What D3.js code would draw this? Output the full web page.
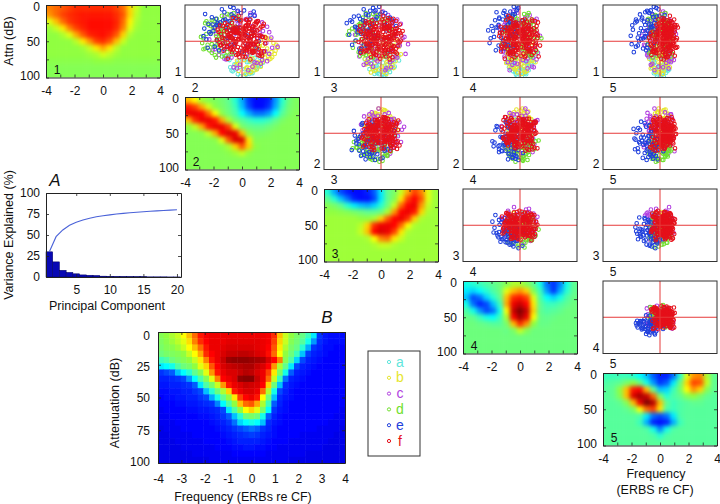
<!DOCTYPE html>
<html><head><meta charset="utf-8">
<script src="https://cdn.jsdelivr.net/npm/d3@7/dist/d3.min.js"></script>
<style>
html,body{margin:0;padding:0;background:#fff}
svg{display:block}
text{font-family:"Liberation Sans",Arial,sans-serif;fill:#111}
</style></head><body>
<svg id="c" width="720" height="504"></svg>
<script>
// ---- PCA variance
const components = d3.range(1, 21);
const varianceEach = [30,18,8,5.5,3.8,2.5,2.1,1.8,1,.8,.6,.5,.4,.3,.3,.2,.2,.2,.1,.1];
const varianceCum = [30,48,56,61.5,65.3,67.8,69.9,71.7,72.9,74,75,75.8,76.5,77.1,77.7,78.2,78.7,79.2,79.6,80];
// ---- tick labels
const freqTicks = [-4,-3,-2,-1,0,1,2,3,4];
const attnTicks = [0,25,50,75,100];
const varTicks = [0,25,50,75,100];
const compTicks = [5,10,15,20];
const groupNames = ['a','b','c','d','e','f'];
// ---- Component heat maps: jet level (%), rows = attenuation 0..100, cols = frequency -4..4
const comp1 = [
[74,76,78,80,82,82,82,82,82,82,80,76,66,58,54,54,54],
[72,76,80,82,83,84,84,84,84,84,82,78,66,57,54,54,54],
[60,68,76,81,83,84,85,85,85,85,83,76,63,56,54,54,54],
[55,58,64,74,80,83,85,85,85,85,82,74,60,55,54,54,54],
[54,54,56,60,70,78,83,84,85,83,78,66,56,54,54,54,54],
[54,54,54,54,57,64,72,80,82,78,68,58,54,54,54,54,54],
[54,54,54,54,54,55,58,64,70,64,57,54,54,54,54,54,54],
[54,54,54,54,54,54,55,56,59,57,55,54,54,54,54,54,54],
[53,53,53,53,53,53,53,54,54,54,53,53,53,53,53,53,53],
[52,52,52,52,52,52,52,52,52,52,52,52,52,52,52,52,52],
[52,52,52,52,52,52,52,52,52,52,52,52,52,52,52,52,52]];
const comp2 = [
[68,62,55,52,51,49,46,40,28,16,12,12,14,26,40,48,51],
[84,80,70,59,53,50,47,42,30,18,12,12,16,28,42,49,51],
[88,88,86,76,62,53,48,44,36,28,22,22,26,36,45,50,52],
[68,82,88,88,84,70,56,49,45,42,40,40,42,46,50,52,52],
[54,58,70,84,88,88,80,60,50,47,46,46,48,50,52,52,52],
[52,52,53,58,70,86,90,88,68,53,50,50,51,52,52,52,52],
[52,52,52,52,53,60,78,90,90,64,52,52,52,52,52,52,52],
[52,52,52,52,52,53,56,66,78,66,54,52,52,52,52,52,52],
[52,52,52,52,52,52,53,55,58,54,52,52,52,52,52,52,52],
[52,52,52,52,52,52,52,52,52,52,52,52,52,52,52,52,52],
[52,52,52,52,52,52,52,52,52,52,52,52,52,52,52,52,52]];
const comp3 = [
[40,28,18,14,12,12,14,20,34,46,50,58,70,80,74,60,55],
[46,40,30,22,14,12,12,18,34,46,52,64,80,86,78,60,55],
[52,50,46,40,34,30,28,32,40,48,58,76,86,88,72,58,55],
[54,54,53,52,50,48,46,46,48,56,72,86,88,84,66,56,55],
[55,55,55,55,55,54,54,56,66,78,86,88,82,66,56,55,55],
[55,55,55,55,55,57,66,82,88,88,86,76,62,56,55,55,55],
[55,55,55,55,55,58,68,86,90,88,80,64,56,55,55,55,55],
[55,55,55,55,55,55,56,62,74,76,64,58,55,55,55,55,55],
[55,55,55,55,55,55,55,56,58,58,56,55,55,55,55,55,55],
[55,55,55,55,55,55,55,55,55,55,55,55,55,55,55,55,55],
[55,55,55,55,55,55,55,55,55,55,55,55,55,55,55,55,55]];
const comp4 = [
[38,40,42,44,46,48,52,56,56,52,46,38,22,16,24,38,46],
[34,32,36,40,44,48,60,68,72,66,52,42,26,16,28,40,46],
[30,18,22,32,40,46,68,82,84,80,60,44,36,32,38,44,47],
[38,22,14,18,30,42,70,88,92,86,64,46,42,42,44,46,48],
[44,38,26,18,22,38,62,92,100,92,66,46,44,45,46,48,48],
[47,46,42,38,36,42,56,86,96,88,62,47,46,47,48,48,48],
[48,48,47,46,45,45,50,68,82,72,54,47,47,48,48,48,48],
[48,48,48,48,48,48,47,50,58,52,48,48,48,48,48,48,48],
[48,48,48,48,48,48,48,48,48,48,48,48,48,48,48,48,48],
[48,48,48,48,48,48,48,48,48,48,48,48,48,48,48,48,48],
[48,48,48,48,48,48,48,48,48,48,48,48,48,48,48,48,48]];
const comp5 = [
[42,42,42,42,40,36,30,20,14,14,22,40,60,72,74,56,46],
[44,45,46,50,54,48,38,26,16,20,34,48,66,80,78,58,46],
[45,46,54,68,84,86,68,46,30,32,42,50,62,72,66,52,46],
[45,46,52,68,90,96,92,76,50,40,44,46,52,54,50,46,45],
[45,45,46,52,68,88,100,94,68,46,42,44,45,46,46,45,45],
[45,45,45,46,50,62,76,80,64,44,42,44,45,45,45,45,45],
[45,45,45,45,45,44,34,22,18,22,34,44,45,45,45,45,45],
[45,45,45,45,45,42,28,14,12,14,28,42,45,45,45,45,45],
[45,45,45,45,45,45,44,38,24,38,44,45,45,45,45,45,45],
[45,45,45,45,45,45,45,44,40,44,45,45,45,45,45,45,45],
[45,45,45,45,45,45,45,45,45,45,45,45,45,45,45,45,45]];
// ---- Panel B mean map: rows = 0,5..100 dB, cols = -4,-3.75..4
const meanMap = [
[52,54,56,58,62,68,76,84,87,88,88,88,88,88,88,88,88,88,88,87,82,68,58,54,50,47,42,34,16,13,12,12,12],
[51,53,55,57,60,65,74,82,86,88,88,88,89,89,89,89,89,89,88,87,80,66,58,52,49,45,38,26,15,13,12,12,12],
[50,52,53,55,58,62,68,76,84,88,88,89,90,90,90,90,90,89,88,86,78,64,56,50,47,40,28,16,14,12,12,11,11],
[48,50,51,52,54,58,62,70,82,86,88,90,92,92,93,93,92,90,89,85,76,62,54,48,42,30,17,14,13,12,11,11,11],
[42,44,48,50,52,54,58,64,74,84,88,92,97,98,98,98,97,96,95,90,86,74,52,44,32,18,14,13,12,11,11,11,11],
[34,36,38,44,48,50,54,60,66,78,86,90,92,93,94,95,95,92,90,86,72,56,46,34,18,14,13,12,11,11,11,11,11],
[16,18,20,30,36,40,46,52,60,72,84,88,90,90,92,94,93,90,88,80,64,50,38,20,14,13,12,11,11,11,11,11,11],
[14,14,15,16,18,26,36,44,52,60,74,86,88,90,98,99,99,92,88,76,58,42,22,14,13,12,11,11,11,11,11,11,11],
[13,13,14,14,15,16,20,34,44,50,58,72,84,88,90,92,91,90,86,66,48,30,15,13,12,11,11,11,11,11,11,11,11],
[12,12,13,13,14,14,16,18,30,40,48,56,66,84,88,90,90,88,76,56,38,18,14,12,11,11,11,11,11,11,11,11,11],
[11,12,12,13,13,14,14,16,18,28,38,46,54,64,80,86,88,84,62,48,30,15,13,12,11,11,11,11,11,11,11,11,11],
[11,11,11,12,12,13,13,14,15,16,24,36,44,54,68,76,78,70,56,42,20,14,12,11,11,11,11,11,11,11,11,11,11],
[10,11,11,11,11,12,12,13,13,14,15,18,34,44,54,62,66,60,50,36,16,13,12,11,11,11,11,11,11,11,11,11,10],
[10,10,11,11,11,11,11,12,12,13,14,16,20,30,40,48,50,48,38,20,14,12,11,11,11,11,11,11,11,11,11,10,10],
[10,10,10,11,11,11,11,11,11,12,13,14,16,22,32,36,38,36,30,15,13,12,11,11,11,11,11,11,11,11,10,10,10],
[ 9,10,10,10,11,11,11,11,11,11,12,13,14,16,18,20,22,20,16,14,12,11,11,11,11,11,11,11,10,10,10,10, 9],
[ 9, 9,10,10,10,10,11,11,11,11,11,12,13,14,15,16,17,16,14,13,12,11,11,11,11,10,10,10,10,10,10, 9, 9],
[ 9, 9, 9,10,10,10,10,10,11,11,11,11,12,13,14,14,14,14,13,12,11,11,11,10,10,10,10,10,10,10, 9, 9, 9],
[ 9, 9, 9, 9,10,10,10,10,10,10,11,11,11,12,12,13,13,12,12,11,11,10,10,10,10,10,10,10,10, 9, 9, 9, 9],
[ 9, 9, 9, 9, 9, 9,10,10,10,10,10,10,10,11,11,11,11,11,11,10,10,10,10,10,10,10, 9, 9, 9, 9, 9, 9, 9],
[ 9, 9, 9, 9, 9, 9, 9, 9, 9,10,10,10,10,10,10,10,10,10,10,10,10,10,10, 9, 9, 9, 9, 9, 9, 9, 9, 9, 9]];
// ---- Scores on PC1..PC5 for each recording, estimated per group
const aScores=[[-92,10,5,-12,8],[-60,30,-25,20,-18],[-78,-15,22,8,30],[-45,42,15,-35,10],[-88,25,-10,15,-20],[-70,-5,38,-18,12],[-52,-30,-28,30,22],[-95,5,12,6,-10],[-66,38,-6,-25,-28],[-38,18,48,28,-20],[-83,-22,-14,-20,15],[-58,12,30,40,6],[-74,32,20,-8,-25],[-48,-38,-20,-30,30],[-90,18,-18,10,5],[-62,-12,-40,22,25],[-80,28,8,25,-12],[-42,48,-30,5,18],[-72,-28,14,-32,-8],[-55,22,36,-15,35],[-97,-4,8,-8,12],[-68,44,-12,12,2],[-50,8,-45,-22,-30],[-85,14,25,-14,-16],[-35,-20,32,45,20],[-76,36,-22,6,10],[-64,-18,18,34,-22],[-46,30,42,-28,-12],[-91,-10,-5,18,-8],[-59,50,5,-20,15],[-77,6,-32,-26,24],[-40,-42,10,25,-35],[-87,22,15,-5,20],[-53,-8,50,10,-28],[-69,40,-18,28,-4],[-30,26,-38,-40,32],[-81,-25,-8,12,26],[-57,16,26,-38,-18],[-73,34,34,2,14],[-44,-34,-22,38,8]];
const bScores=[[-70,45,10,-8,15],[-30,70,-20,15,-10],[-55,20,40,30,-25],[-10,82,5,-12,20],[-80,30,-15,12,8],[-45,55,25,-28,-12],[-20,60,-40,10,30],[-62,-5,-35,-30,22],[-5,75,18,28,-8],[-75,10,22,-18,-30],[-38,48,-30,38,5],[-15,40,50,-22,14],[-85,22,8,15,-15],[-50,65,-8,-10,28],[5,68,-25,-30,-18],[-66,-15,32,22,18],[-25,35,-52,-15,-28],[-58,38,15,45,-5],[-35,78,10,2,12],[-72,12,-25,-25,32],[-12,50,38,35,8],[-48,25,-45,8,-35],[-90,8,15,5,10],[-28,58,30,-35,-20],[8,60,-12,22,35],[-60,42,-18,-40,2],[-42,15,48,18,-22],[-78,35,-5,-15,-12],[-18,85,-8,8,-5],[-52,5,28,-28,38],[-32,52,-35,30,18],[-68,28,25,10,-28],[2,45,42,-18,25],[-44,72,5,-20,-8],[-22,28,-58,25,-15],[-82,-8,-18,20,12],[-56,50,18,-5,22],[-8,38,-30,42,-32],[-40,62,-22,-32,10],[-74,18,35,-12,-18],[-26,80,12,15,15],[-64,32,-42,5,-25],[-36,10,55,-38,6],[12,55,8,30,-12],[-48,68,-15,12,28],[-86,20,-28,-8,-2],[-14,42,25,-42,30],[-54,-12,-38,35,14],[-30,48,40,22,-32],[-70,25,2,-30,25]];
const cScores=[[40,-50,15,25,-30],[-60,35,-40,-15,20],[10,70,25,-35,-45],[65,-25,-42,15,8],[-35,12,68,30,-15],[52,48,10,-42,30],[-72,-20,28,40,10],[20,-62,-30,-25,52],[-15,85,-8,18,-20],[60,8,45,-12,-40],[-48,-42,-35,22,38],[30,30,-65,35,5],[-80,15,12,-30,-18],[5,-78,22,10,-28],[48,-10,55,30,28],[-28,55,-22,-48,-35],[78,20,-15,-8,15],[-42,-32,40,-45,25],[15,45,35,58,-12],[-55,60,-10,18,30],[35,-40,-52,-30,-22],[-8,22,75,-20,35],[68,-42,8,20,-15],[-22,-65,-18,42,15],[25,65,-38,-10,40],[-65,-5,-48,-22,-30],[42,25,30,-62,-8],[-32,40,18,52,-40],[58,-18,-28,42,32],[-12,-35,52,-38,-48],[18,-20,-72,12,-10],[-52,48,32,8,45],[72,30,20,28,-25],[-38,-55,-12,-28,-42],[8,38,60,-40,22],[-70,25,-22,35,-5],[38,-68,18,-15,-32],[-18,72,-30,25,18],[50,-5,-48,-38,40],[-45,-25,45,38,-22],[28,50,42,15,-48],[-28,-48,-40,-50,20],[62,12,-20,48,-18],[-58,30,25,-35,35],[12,-30,65,20,-35],[-5,58,-55,-28,-15],[45,-55,-5,-45,25],[-75,-12,15,22,28],[22,42,-45,50,12],[-42,10,-60,-12,-38],[55,38,35,-18,-30],[-25,-70,30,5,30],[32,-15,22,-58,48],[-62,45,-28,-8,-25],[82,-12,5,-20,10],[-10,28,48,45,-52],[40,60,-25,5,-35],[-50,-38,-15,48,22],[15,-48,40,-32,-58],[-35,65,12,-22,38]];
const dScores=[[30,-70,-30,15,10],[-20,-88,-10,-25,-30],[52,-25,-55,30,22],[5,-55,15,-42,42],[68,-12,-35,-15,-25],[-38,-65,-42,28,5],[18,-42,-68,-22,-12],[45,-80,8,12,28],[-8,-72,-48,-8,-40],[60,-5,22,35,-32],[25,-52,-25,-48,18],[-30,-35,-62,20,-18],[48,-60,-12,-30,30],[-5,-95,5,10,-8],[35,-48,-80,-5,8],[72,-30,-8,22,-15],[-25,-78,20,-35,20],[10,-28,-42,52,-38],[55,-68,-25,-12,15],[-42,-48,10,32,35],[20,-85,-38,-2,-22],[65,-22,-50,-28,12],[0,-58,-72,18,28],[32,-38,28,42,-28],[-15,-68,-30,-40,-12],[48,-50,-58,8,-35],[8,-92,-18,25,12],[-35,-25,-48,-18,40],[62,-42,12,-38,-8],[22,-75,-62,30,-20],[-28,-55,-5,48,-30],[40,-15,-72,-30,25],[15,-62,32,-20,38],[75,-35,-22,12,5],[-10,-82,-40,-30,18],[50,-58,-45,28,-18],[28,-30,-88,-8,-5],[-45,-62,-22,-12,-25],[58,-72,5,18,20],[5,-45,-55,38,30],[38,-20,-30,-45,-32],[-18,-50,-78,5,15],[70,-48,-15,-22,-12],[12,-98,-5,-15,-15],[45,-32,-62,40,10],[-32,-72,15,20,-35],[25,-8,-50,-35,35],[55,-85,-28,5,-8],[-5,-40,-35,-52,22],[35,-65,-48,-18,-28],[78,-20,-42,25,18],[-22,-92,-28,8,8],[18,-52,-92,15,-22],[42,-75,20,-28,25],[-40,-38,-58,35,-10],[62,-60,-8,-8,-38],[8,-25,-18,62,12],[30,-45,-70,-40,-15],[-12,-62,30,-25,32],[50,-88,-35,12,-2]];
const eScores=[[60,-40,30,-50,-60],[20,-75,-55,-20,-35],[85,5,-15,-10,-30],[-10,-25,-80,-35,-40],[45,-60,12,-62,-48],[72,20,-35,-40,15],[5,-85,5,-25,-62],[38,-12,-68,-65,-25],[92,-20,-22,-5,-12],[-20,35,-60,-45,-55],[55,-30,-45,-25,-75],[28,-68,-30,10,-55],[78,-2,12,-48,-35],[-5,-45,-30,-88,-20],[48,-80,-25,-12,-30],[15,15,-8,-30,-95],[68,-20,-75,-22,-10],[-25,-55,22,-70,-45],[35,-90,-50,-40,-8],[82,28,-18,-28,-38],[10,-35,-18,-55,-72],[58,-8,-85,8,-40],[-15,-65,-38,-20,-78],[42,10,42,-82,-22],[95,-28,-5,-18,-20],[25,-78,-65,-15,-15],[65,-15,25,-60,-58],[0,40,-28,-48,-68],[50,-58,-95,-5,-18],[30,-28,15,-92,-42],[88,-48,-48,-8,-5],[-30,0,-58,-30,-85],[40,-38,-72,-42,-28],[75,-88,-2,-15,-25],[12,22,-42,-75,-50],[52,-52,32,-30,-80],[-8,-18,-25,-42,-92],[62,-62,-58,-60,12],[18,8,-88,-22,-32],[80,-42,2,-68,-48],[-18,-82,-35,-25,-42],[32,-22,-35,-52,-88],[70,30,-62,-30,-2],[8,-32,-10,-85,-55],[46,-70,-45,-35,-35],[22,-15,-22,-58,-68],[58,-45,-50,-72,-15],[36,-5,-65,-10,-62],[66,-72,-12,-38,-22],[-12,12,-48,-62,-72],[44,-55,8,-18,-90],[84,-10,-30,-45,-42],[2,-60,-70,-48,-12],[28,25,-32,-78,-38],[54,-35,-80,-28,-52],[14,-92,-20,-5,-48],[74,-25,-42,-20,-65],[-22,-42,-55,-55,-28],[38,-65,-28,-70,-30],[60,18,-15,-35,-78]];
const fScores=[[12,-30,21,-15,30],[-25,18,-40,28,-8],[35,42,9,-35,15],[5,-8,45,8,42],[-32,25,-22,40,-12],[50,-40,30,-20,5],[20,3,-50,17,38],[-9,38,14,45,-20],[28,-18,38,-36,22],[-40,48,-5,2,-2],[45,-35,-30,26,48],[2,12,55,-10,-15],[-17,-25,18,-45,26],[24,30,-38,-30,12],[38,-3,25,22,58],[-28,45,-12,-55,-25],[9,-44,34,11,8],[60,20,3,34,-5],[-4,-14,-26,-18,32],[30,36,-48,48,18],[-20,8,42,-6,-18],[15,-32,-6,-38,45],[42,50,22,24,2],[-36,-10,-18,-28,28],[22,26,48,36,-30],[-12,-52,2,58,6],[52,16,-32,-12,40],[7,-22,28,-42,-10],[-26,4,-44,30,35],[36,-38,12,-4,10],[16,40,-15,52,-22],[-44,-6,32,14,20],[26,-20,-55,-25,48],[-6,55,6,-48,0],[58,12,18,6,25],[10,-48,-28,40,-35],[-30,28,40,-20,42],[23,-12,-8,-52,14],[46,33,52,16,-12],[-16,-36,-34,4,30],[3,20,16,-32,52],[32,-58,-22,30,-6],[-38,38,26,-10,16],[55,-4,-42,44,34],[14,22,36,-60,-28],[-22,-28,-12,22,8],[40,46,4,-26,44],[-2,-16,-62,38,-16],[29,6,24,-14,22],[-14,-42,46,-40,36],[48,30,-20,10,-4],[8,-2,-36,50,55],[-28,52,10,-30,-20],[20,-26,38,26,12],[44,14,-46,-8,28],[-48,-34,-2,-44,4],[34,24,30,32,40],[-10,-50,-24,-18,-30],[16,44,56,6,18],[40,-16,-14,-56,50],[-24,10,20,46,-14],[6,-40,-52,-16,24],[54,34,8,20,6],[-34,-8,44,-34,32],[26,-56,-30,42,-24],[-8,26,-10,-2,46],[62,-14,34,-24,14],[12,48,-40,12,-8],[-42,2,14,54,26],[30,-30,50,-46,38],[1,18,-18,28,-32],[42,-46,-58,-6,20],[-18,32,28,18,52],[22,-6,-4,-38,2],[56,38,42,36,30],[-30,-24,-48,-22,-18],[10,56,12,-50,42],[36,-10,-26,8,10],[-14,-36,36,44,-26],[50,16,-12,-16,34],[-3,-54,52,24,16],[24,6,-34,-58,-10],[-40,42,2,16,48],[64,-22,20,-28,8],[16,28,-44,34,24],[-26,-44,32,-12,-22],[42,8,-16,48,36],[-1,34,48,-42,4],[30,-12,-60,2,44],[-50,20,24,-24,12],[18,-34,-8,38,-12],[48,52,16,-4,26],[-12,-20,-30,-54,40],[34,2,40,26,-2],[-34,46,-20,10,18],[70,-8,6,-34,32],[4,-60,30,18,-16],[-18,14,-54,-8,50],[52,36,-2,52,14],[22,-28,54,-20,22],[-38,-14,-14,34,-28],[38,24,18,-44,38],[-7,-46,-38,6,6],[60,10,26,14,46],[-22,40,-6,-36,-6],[36,-20,44,40,28],[0,4,-48,-26,16],[44,-52,10,-14,54],[-28,30,34,22,-20],[58,-2,-24,-40,10],[-4,22,-16,46,42],[28,-42,60,-2,-8],[-44,8,-28,-16,24],[12,50,22,30,34],[50,-24,-40,12,2],[-16,16,8,-52,56],[20,-50,42,48,18],[-32,-4,-56,-30,-14],[8,36,-10,8,30],[35,-18,16,-24,12],[-20,12,-26,-8,20],[14,-6,24,14,26],[-8,28,-14,-20,8],[26,-14,6,-2,36],[4,20,-32,24,18],[-24,-22,12,-12,4],[32,10,-20,-30,24],[18,-32,30,16,-4],[-12,2,-6,34,32],[40,26,14,-16,14],[6,-16,-22,6,44],[-30,18,20,-26,10],[24,-8,32,20,16],[-6,30,-36,-6,28],[30,4,-2,32,6],[10,-26,16,-34,22],[-18,-2,-30,12,38],[46,14,26,-10,18],[2,-20,-12,26,2],[-26,24,4,-22,30],[20,-4,36,4,12],[34,18,-18,18,26],[-10,-30,10,-14,-2],[16,8,-24,-28,34],[-2,34,22,10,14],[28,-12,-40,-4,20],[-22,6,28,30,24],[42,-28,2,-20,6],[8,16,-8,22,40],[-14,-18,34,-30,12],[22,22,-28,2,28],[38,-6,18,-36,-8],[-4,-34,-16,16,36],[12,12,6,-12,18],[-28,26,-34,26,8],[30,-22,24,8,32],[4,2,-20,-24,22],[18,30,12,28,-6],[-16,-10,-4,-18,26],[26,-36,40,-8,16],[-8,14,-42,20,10],[36,6,8,-26,38],[0,-14,26,12,24],[14,24,-10,-2,4],[-20,-26,14,34,30],[44,10,-30,-14,14],[6,-8,2,-32,20],[-12,20,30,18,6],[24,-18,-14,4,34],[-34,4,10,-20,16],[32,32,-6,14,28],[10,-24,-26,-10,12],[-6,8,18,24,42],[20,-2,-36,-28,0],[28,16,22,6,22],[-24,-12,0,-6,18],[2,-28,14,28,10],[16,6,-18,-16,30],[34,-16,4,10,14],[-10,18,-24,-4,26],[8,-4,8,-18,8]];

const scores = {a:aScores,b:bScores,c:cScores,d:dScores,e:eScores,f:fScores};
const groupColor = {a:'#5fe6dc',b:'#e6e62e',c:'#b23fe0',d:'#6fe02e',e:'#1f3fdc',f:'#e5101a'};
const heatmaps = [comp1,comp2,comp3,comp4,comp5];
// axis half-range of each score panel, keyed row+col
const xLim = {12:136,13:158,14:165,15:185,23:185,24:190,25:205,34:190,35:220,45:225};
const yLim = {1:100,2:125,3:150,4:185};

// ---- layout
const colX=[46,185,324,463,603], rowY=[5,97,189,281,373], pw=114, ph=72.5;
const svg=d3.select('#c');
const jet=d3.scaleLinear().domain([0,.11,.36,.46,.54,.62,.86,1]).range(['#00007f','#0000ff','#00ffff','#60ff90','#90ff40','#ffff00','#ff0000','#7f0000']).clamp(true);
const defs=svg.append('defs');
defs.append('filter').attr('id','soft').attr('x','-20%').attr('y','-20%').attr('width','140%').attr('height','140%')
  .attr('color-interpolation-filters','sRGB').append('feGaussianBlur').attr('stdDeviation',2);
const ink='#222';
function style(g){g.selectAll('path.domain').attr('stroke',ink).attr('stroke-width',1);
 g.selectAll('.tick line').attr('stroke',ink).attr('stroke-width',.8);
 g.selectAll('text').attr('fill','#111').style('font-family','"Liberation Sans",Arial,sans-serif').style('font-size','12px');}
function heatAxes(g,x,y,opts){
 const {xt,yt,xf,yf,xp,yp,shift}=opts, [x0,x1]=x.range(), [y0,y1]=[y.range()[1],y.range()[0]];
 g.append('g').attr('transform',`translate(0,${y0})`).call(d3.axisBottom(x).tickValues(xt).tickSize(-3).tickSizeOuter(0).tickPadding(xp).tickFormat(xf)).call(style);
 g.append('g').attr('transform',`translate(0,${y1})`).call(d3.axisTop(x).tickValues(xt).tickSize(-3).tickSizeOuter(0).tickFormat('')).call(style);
 g.append('g').attr('transform',`translate(${x0},0)`).call(d3.axisLeft(y).tickValues(yt).tickSize(-3).tickSizeOuter(0).tickPadding(yp).tickFormat(yf)).call(style)
  .selectAll('.tick text').attr('y',d=>shift(d));
 g.append('g').attr('transform',`translate(${x1},0)`).call(d3.axisRight(y).tickValues(yt).tickSize(-3).tickSizeOuter(0).tickFormat('')).call(style);
}
function drawCells(g,grid,bx,by,pad){
 const nr=grid.length,nc=grid[0].length;
 g.selectAll('g.r').data(grid).join('g').attr('class','r').each(function(row,r){
  d3.select(this).selectAll('rect').data(row).join('rect')
   .attr('x',(d,c)=>bx(c)-(c==0?pad:0)).attr('y',by(r)-(r==0?pad:0))
   .attr('width',(d,c)=>bx.bandwidth()+.5+(c==0||c==nc-1?pad:0))
   .attr('height',by.bandwidth()+.5+(r==0||r==nr-1?pad:0))
   .attr('fill',d=>jet(d/100));
 });
}
function clip(id,x,y,w,h){defs.append('clipPath').attr('id',id).append('rect').attr('x',x).attr('y',y).attr('width',w).attr('height',h);}

// heat maps on the diagonal
heatmaps.forEach((grid,k)=>{
 const l=colX[k],t=rowY[k];
 const x=d3.scaleLinear().domain([-4,4]).range([l,l+pw]);
 const y=d3.scaleLinear().domain([0,100]).range([t,t+ph]);
 const bx=d3.scaleBand().domain(d3.range(grid[0].length)).range([l,l+pw]);
 const by=d3.scaleBand().domain(d3.range(grid.length)).range([t,t+ph]);
 clip('hc'+k,l,t,pw,ph);
 const g=svg.append('g');
 const cg=g.append('g').attr('clip-path',`url(#hc${k})`).append('g').attr('filter','url(#soft)');
 drawCells(cg,grid,bx,by,14);
 heatAxes(g,x,y,{xt:freqTicks,yt:attnTicks,xp:9,yp:6,shift:d=>d==0?2:d==100?-2:0,
   xf:d=>d%2==0?d3.format('d')(d).replace('−','-'):'',yf:d=>d%50==0?d:''});
 g.append('text').attr('x',l+11).attr('y',t+ph-4).attr('text-anchor','middle').style('font-size','12px').attr('fill','#123').text(k+1);
});

// score panels above the diagonal
for(let r=1;r<=4;r++)for(let c=r+1;c<=5;c++){
 const l=colX[c-1],t=rowY[r-1];
 const x=d3.scaleLinear().domain([-xLim[''+r+c],xLim[''+r+c]]).range([l,l+pw]);
 const y=d3.scaleLinear().domain([-yLim[r],yLim[r]]).range([t+ph,t]);
 const id='sc'+r+c; clip(id,l,t,pw,ph);
 const g=svg.append('g');
 const pg=g.append('g').attr('clip-path',`url(#${id})`);
 groupNames.forEach(n=>{
  pg.append('g').selectAll('circle').data(scores[n]).join('circle')
   .attr('cx',p=>x(p[c-1])).attr('cy',p=>y(p[r-1])).attr('r',1.8)
   .attr('fill','none').attr('stroke',groupColor[n]).attr('stroke-width',1.05);
 });
 g.append('line').attr('x1',x(0)).attr('x2',x(0)).attr('y1',t).attr('y2',t+ph).attr('stroke','#e63a3a').attr('stroke-width',1);
 g.append('line').attr('x1',l).attr('x2',l+pw).attr('y1',y(0)).attr('y2',y(0)).attr('stroke','#e63a3a').attr('stroke-width',1);
 g.append('rect').attr('x',l).attr('y',t).attr('width',pw).attr('height',ph).attr('fill','none').attr('stroke','#333').attr('stroke-width',1);
 g.append('text').attr('x',l-7).attr('y',t+ph-2).attr('text-anchor','middle').style('font-size','12px').text(r);
 g.append('text').attr('x',l+10).attr('y',t+ph+14).attr('text-anchor','middle').style('font-size','12px').text(c);
}

// Panel A
{
 const x=d3.scaleLinear().domain([.5,20.6]).range([46,181]);
 const y=d3.scaleLinear().domain([0,100]).range([277,193]);
 const g=svg.append('g');
 g.selectAll('rect').data(components).join('rect')
  .attr('x',d=>x(d-.5)).attr('width',d=>x(d+.5)-x(d-.5)).attr('y',(d,i)=>y(varianceEach[i]))
  .attr('height',(d,i)=>y(0)-y(varianceEach[i])).attr('fill','#0808b4').attr('stroke','#000060').attr('stroke-width',.5);
 g.append('path').attr('d',d3.line().x((d,i)=>x(components[i])).y(d=>y(d))(varianceCum)).attr('fill','none').attr('stroke','#4a62d8').attr('stroke-width',1.1);
 g.append('g').attr('transform','translate(0,277)').call(d3.axisBottom(x).tickValues(compTicks).tickSize(-3).tickSizeOuter(0).tickPadding(8)).call(style);
 g.append('g').attr('transform','translate(0,193)').call(d3.axisTop(x).tickValues(compTicks).tickSize(-3).tickSizeOuter(0).tickFormat('')).call(style);
 g.append('g').attr('transform','translate(46,0)').call(d3.axisLeft(y).tickValues(varTicks).tickSize(-3).tickSizeOuter(0).tickPadding(6)).call(style);
 g.append('g').attr('transform','translate(181,0)').call(d3.axisRight(y).tickValues(varTicks).tickSize(-3).tickSizeOuter(0).tickFormat('')).call(style);
}

// Panel B
{
 const x=d3.scaleLinear().domain([-4,4]).range([158,345]);
 const y=d3.scaleLinear().domain([0,100]).range([332,463]);
 const bx=d3.scaleBand().domain(d3.range(meanMap[0].length)).range([158,345]);
 const by=d3.scaleBand().domain(d3.range(meanMap.length)).range([332,463]);
 const g=svg.append('g');
 drawCells(g.append('g'),meanMap,bx,by,0);
 heatAxes(g,x,y,{xt:freqTicks,yt:attnTicks,xp:11,yp:8,shift:d=>d==0?4:d==25?2:d==100?-1.5:0,xf:d=>d3.format('d')(d).replace('−','-'),yf:d=>d});
}

// legend
{
 const ly=d3.scalePoint().domain(groupNames).range([362,441]);
 const g=svg.append('g');
 g.append('rect').attr('x',368).attr('y',351).attr('width',52).attr('height',105).attr('fill','#fff').attr('stroke','#333').attr('stroke-width',1);
 groupNames.forEach(n=>{
  g.append('circle').attr('cx',389).attr('cy',ly(n)).attr('r',1.6).attr('fill','none').attr('stroke',groupColor[n]).attr('stroke-width',1);
  g.append('text').attr('x',400).attr('y',ly(n)+4.5).attr('text-anchor','middle').style('font-size','14px').style('fill',groupColor[n]).text(n);
 });
}

// titles
function label(t,x,y,size,opt={}){
 const s=svg.append('text').attr('text-anchor','middle').style('font-size',size+'px').text(t);
 if(opt.rot) s.attr('transform',`translate(${x},${y}) rotate(-90)`); else s.attr('x',x).attr('y',y);
 if(opt.italic) s.style('font-style','italic');
 return s;
}
label('Attn (dB)',13,41,12.5,{rot:1});
label('Variance Explained (%)',13,235,12.5,{rot:1});
label('Principal Component',107,310,12.5);
label('A',55,186,17,{italic:1});
label('B',327,323,17,{italic:1});
label('Attenuation (dB)',119,403,12.5,{rot:1});
label('Frequency (ERBs re CF)',243,501,12.5);
label('Frequency',656,478,12.5);
label('(ERBS re CF)',655,494,12.5);
</script></body></html>
